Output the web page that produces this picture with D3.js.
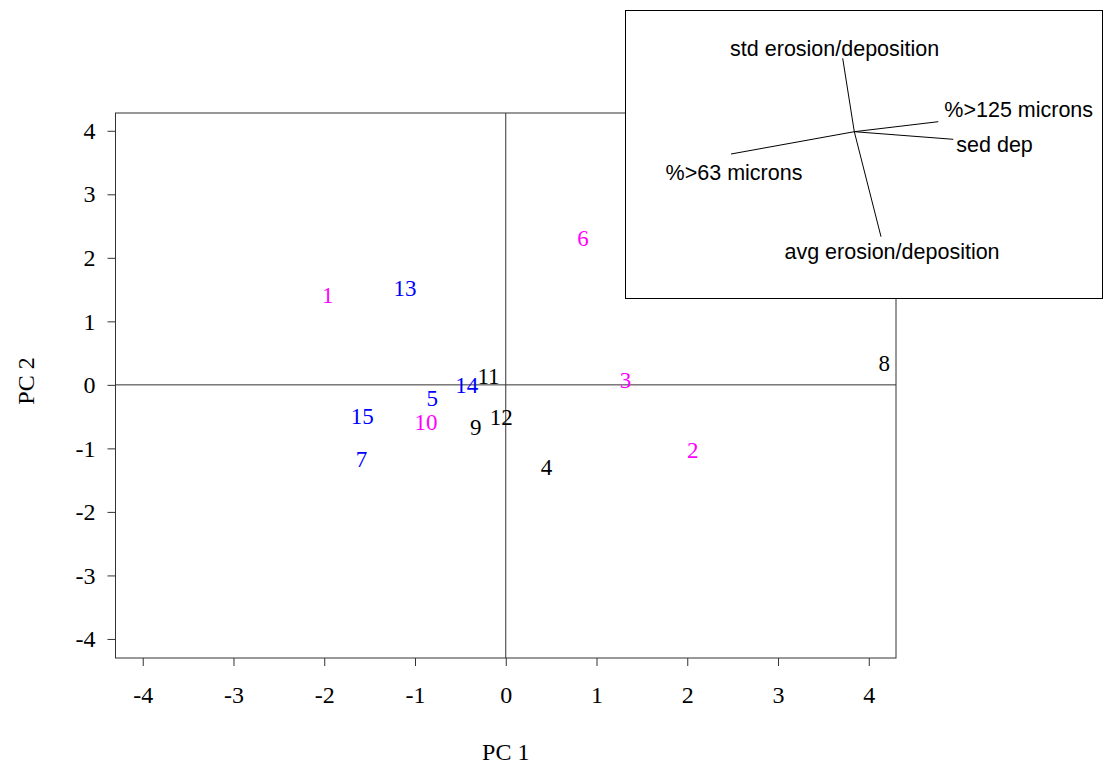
<!DOCTYPE html>
<html>
<head>
<meta charset="utf-8">
<script src="https://cdn.jsdelivr.net/npm/d3@7"></script>
<style>
  body { margin: 0; background: #fff; }
  svg { display: block; }
</style>
</head>
<body>
<svg id="chart" width="1103" height="765"></svg>
<script>
// sample scores on the first two principal components
var sampleIds = ["1", "2", "3", "4", "5", "6", "7", "8", "9", "10", "11", "12", "13", "14", "15"]
var pc1Scores = [-1.96, 2.06, 1.32, 0.45, -0.81, 0.85, -1.59, 4.17, -0.33, -0.88, -0.19, -0.05, -1.11, -0.43, -1.58]
var pc2Scores = [1.41, -1.02, 0.07, -1.29, -0.21, 2.32, -1.16, 0.34, -0.67, -0.58, 0.14, -0.51, 1.53, 0.00, -0.49]
var sampleGroup = ["a", "a", "a", "c", "b", "a", "b", "c", "c", "a", "c", "c", "b", "b", "b"]

var xTicks = [-4, -3, -2, -1, 0, 1, 2, 3, 4]
var yTicks = [-4, -3, -2, -1, 0, 1, 2, 3, 4]

// variable loadings for the inset biplot
var loadingNames = ["std erosion/deposition", "%>125 microns", "sed dep", "%>63 microns", "avg erosion/deposition"]
var loadingX = [-0.116, 0.84, 0.99, -1.233, 0.267]
var loadingY = [0.734, 0.10, -0.076, -0.223, -1.05]

var svg = d3.select("#chart")

var margin = {top: 113, right: 207, bottom: 107, left: 115.5}
var width = 1103 - margin.left - margin.right
var height = 765 - margin.top - margin.bottom
var serif = "'Liberation Serif', 'Times New Roman', serif"
var sans = "'Liberation Sans', Arial, sans-serif"
var lineColor = "#333"

var xScale = d3.scaleLinear().domain([-4.3, 4.3]).range([0, width])
var yScale = d3.scaleLinear().domain([-4.3, 4.28]).range([height, 0])

var color = d3.scaleOrdinal().domain(["a", "b", "c"]).range(["#ff00ff", "#0000ff", "#000000"])

var canvas = svg.append("g")
  .attr("transform", "translate(" + margin.left + "," + margin.top + ")")

// frame
canvas.append("rect")
  .attr("x", 0).attr("y", 0)
  .attr("width", width).attr("height", height)
  .attr("fill", "none").attr("stroke", lineColor).attr("stroke-width", 1)

// zero lines
canvas.append("line")
  .attr("x1", 0).attr("x2", width)
  .attr("y1", yScale(0)).attr("y2", yScale(0))
  .attr("stroke", lineColor).attr("stroke-width", 1)
canvas.append("line")
  .attr("x1", xScale(0)).attr("x2", xScale(0))
  .attr("y1", 0).attr("y2", height)
  .attr("stroke", lineColor).attr("stroke-width", 1)

// axes
var xAxis = d3.axisBottom(xScale).tickValues(xTicks).tickSize(8).tickPadding(20).tickFormat(d3.format("d"))
var yAxis = d3.axisLeft(yScale).tickValues(yTicks).tickSize(8).tickPadding(12).tickFormat(d3.format("d"))

var gx = canvas.append("g").attr("transform", "translate(0," + height + ")").call(xAxis)
var gy = canvas.append("g").call(yAxis)

;[gx, gy].forEach(function(g) {
  g.select(".domain").remove()
  g.selectAll(".tick line").attr("stroke", lineColor)
  g.selectAll(".tick text")
    .attr("fill", "#000")
    .style("font-family", serif)
    .style("font-size", "24px")
    .text(function(d) { return d < 0 ? "-" + Math.abs(d) : d })
})

// axis titles
svg.append("text")
  .attr("x", margin.left + xScale(0))
  .attr("y", 760)
  .attr("text-anchor", "middle")
  .style("font-family", serif).style("font-size", "24px")
  .text("PC 1")
svg.append("text")
  .attr("transform", "translate(33.5,381) rotate(-90)")
  .attr("text-anchor", "middle")
  .style("font-family", serif).style("font-size", "24px")
  .text("PC 2")

// sample labels
canvas.selectAll("text.sample").data(sampleIds).enter().append("text")
  .attr("class", "sample")
  .attr("x", (d, i) => xScale(pc1Scores[i]))
  .attr("y", (d, i) => yScale(pc2Scores[i]))
  .attr("dy", "0.35em")
  .attr("text-anchor", "middle")
  .attr("fill", (d, i) => color(sampleGroup[i]))
  .style("font-family", serif).style("font-size", "23px")
  .text(d => d)

// inset biplot
var inset = {x: 625.5, y: 10.5, w: 477, h: 288}
svg.append("rect")
  .attr("x", inset.x).attr("y", inset.y)
  .attr("width", inset.w).attr("height", inset.h)
  .attr("fill", "#fff").attr("stroke", "#000").attr("stroke-width", 1)

var cx = 854.3, cy = 131.7
var lx = d3.scaleLinear().domain([-1, 1]).range([cx - 100, cx + 100])
var ly = d3.scaleLinear().domain([-1, 1]).range([cy + 100, cy - 100])

var labelAnchor = ["middle", "start", "start", "middle", "middle"]
var labelDx = [-8, 6, 3, 3, 11]
var labelDy = [-10, -12, 5, 18, 15]

var vec = svg.append("g").selectAll("g").data(loadingNames).enter().append("g")
vec.append("line")
  .attr("x1", lx(0)).attr("y1", ly(0))
  .attr("x2", (d, i) => lx(loadingX[i]))
  .attr("y2", (d, i) => ly(loadingY[i]))
  .attr("stroke", "#000").attr("stroke-width", 1)
vec.append("text")
  .attr("x", (d, i) => lx(loadingX[i]) + labelDx[i])
  .attr("y", (d, i) => ly(loadingY[i]) + labelDy[i])
  .attr("dy", "0.35em")
  .attr("text-anchor", (d, i) => labelAnchor[i])
  .style("font-family", sans).style("font-size", "21.5px")
  .text(d => d)
</script>
</body>
</html>
